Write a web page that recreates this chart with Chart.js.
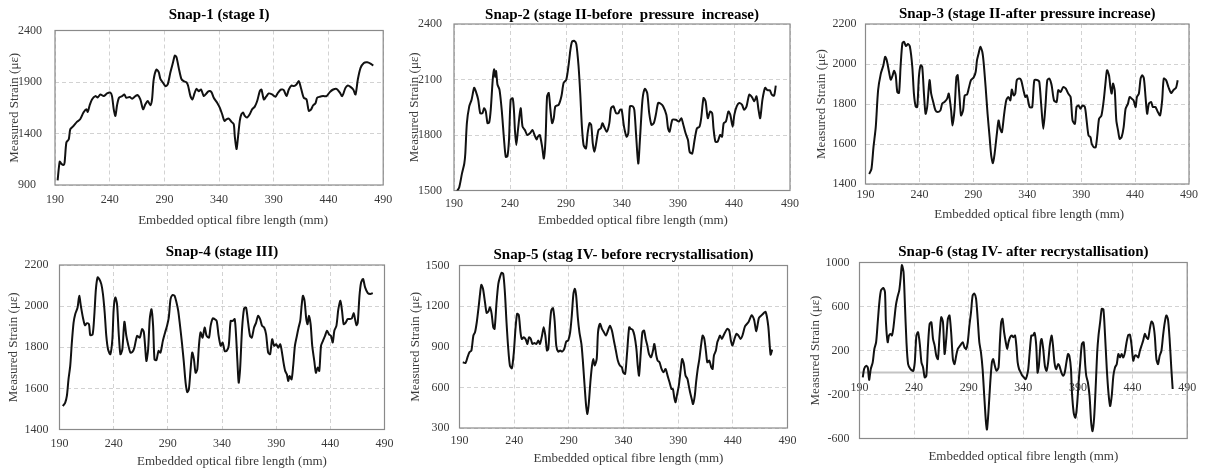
<!DOCTYPE html>
<html>
<head>
<meta charset="utf-8">
<script src="https://cdn.jsdelivr.net/npm/chart.js@4.4.1/dist/chart.umd.min.js"></script>
<style>
  html, body { margin: 0; padding: 0; background: #ffffff; }
  #page { position: relative; width: 1205px; height: 473px; overflow: hidden; background: #ffffff; }
  #page canvas { position: absolute; }
</style>
</head>
<body>
<div id="page"></div>
<script>
// ---- axis ranges: [min, max, step] ----
const lengthAxis = [190, 490, 50];
const snap1Axis = [900, 2400, 500];
const snap2Axis = [1500, 2400, 300];
const snap3Axis = [1400, 2200, 200];
const snap4Axis = [1400, 2200, 200];
const snap5Axis = [300, 1500, 300];
const snap6Axis = [-600, 1000, 400];

// ---- text ----
const panelTitles = [
  'Snap-1 (stage I)',
  'Snap-2 (stage II-before  pressure  increase)',
  'Snap-3 (stage II-after pressure increase)',
  'Snap-4 (stage III)',
  'Snap-5 (stag IV- before recrystallisation)',
  'Snap-6 (stag IV- after recrystallisation)'
];
const lengthTitle = 'Embedded optical fibre length (mm)';
const strainTitle = 'Measured Strain (με)';

// ---- Snap-1: fibre length (mm) and strain (με) ----
const snap1Length = [192.4,194.3,195.9,197.9,198.8,200.4,202.6,204,207,210,
213,216,218.7,219.9,221.7,223.8,226.9,229,231.5,234.5,
237.6,240.6,242.1,243.7,245.2,246.7,248.5,251.3,253.4,255.2,
258.3,260.4,263.5,265.6,268,270.5,272.6,274.8,277.2,278.7,
280.2,282.7,284.8,286.3,288.8,290.9,293,295.5,297.9,299.5,
301,303.1,305.5,307.6,310.1,311.6,313.8,315.6,317.5,319.3,
321.4,323.5,326,328.4,330.5,333,335.1,338.2,340.6,342.8,
344.9,346.7,348.8,351.3,353.4,354.3,355.9,357.1,358.9,360.4,
362,363.5,365.6,368,370.2,372.6,374.8,377.2,378.7,380.9,
383,385.4,388.4,391.5,393.9,396.7,399.1,401.6,403.7,406.2,
408.3,410.7,412.9,415,417.4,419.9,422,424.1,426,428.1,
429.6,432.1,435.1,438.2,441.2,444.3,447.3,450.4,452.5,455.5,
457.7,460.1,462.6,464.7,466.8,469.3,472.3,475.4,478.4,480.9];
const snap1Strain = [944,1127,1105,1095,1120,1313,1345,1442,1474,1513,
1538,1603,1635,1609,1674,1731,1763,1750,1779,1763,
1789,1796,1763,1635,1571,1674,1747,1763,1779,1747,
1754,1738,1763,1773,1731,1635,1683,1715,1674,1731,
1923,2020,1995,1931,1892,1860,1876,1995,2091,2156,
2143,2037,1931,1908,1898,1866,1763,1731,1789,1834,
1811,1827,1763,1789,1811,1802,1747,1699,1651,1587,
1522,1538,1545,1513,1490,1378,1249,1346,1522,1587,
1603,1571,1555,1587,1635,1661,1715,1811,1827,1731,
1757,1789,1779,1757,1796,1827,1821,1763,1827,1866,
1860,1876,1908,1834,1747,1731,1619,1635,1674,1693,
1747,1757,1763,1763,1802,1827,1834,1796,1763,1843,
1866,1853,1827,1779,1924,2037,2085,2091,2078,2059];

// ---- Snap-2 ----
const snap2Length = [192.7,194.7,197.1,199.2,200.1,201.5,203.6,205.7,208,209.5,
211.6,213.4,215.4,216.9,218.4,219.9,221.4,222.8,224.6,225.8,
226.7,227.6,228.8,230.6,232.6,234.7,236.2,237.7,239.1,240.6,
242.4,243.5,244.4,245.6,247.1,249.5,251.2,253.3,255.4,257.8,
260.1,261.9,263.7,264.9,266.6,268.7,270.2,271.7,273.1,274.6,
276.1,277.6,279.1,280.5,283.5,285.9,287.9,290.3,292.4,293.8,
295.3,297.4,299.2,301.2,302.7,304.2,305.7,307.8,309.3,311,
312.5,313.9,315.4,316.9,319,321.1,322.5,324,326.4,328.7,
330.2,332.3,334.7,336.8,338.2,339.7,341.8,344.1,345.6,347.1,
349.5,351,352.5,354.5,356,358.3,360.4,362.5,364.3,366.3,
368.4,370.2,372.3,374.6,376.7,379.6,381.1,382.5,385,388,
390.9,393,394.4,396.8,398.9,400.4,402.7,404.8,406.9,409.2,
410.7,412.8,414.6,416.6,418.7,420.5,421.7,423.4,425.4,427.6,
429.3,430.8,432.8,435,436.7,438.8,440.3,442.4,444.7,447.1,
449.1,451.2,453.6,456,458.1,460.1,461.9,463.4,465.4,467.8,
469.8,472,473.7,475.8,477.3];
const snap2Strain = [1496,1518,1591,1646,1700,1864,1955,1991,2055,2036,
1991,1918,1918,1945,1927,1864,1867,1936,2100,2155,
2115,2145,2073,2045,1936,1773,1682,1685,1773,1991,
1998,1936,1827,1746,1827,1945,1845,1827,1800,1809,
1827,1800,1776,1791,1800,1736,1673,1773,2009,2027,
1936,1864,1891,1955,1964,2009,2082,2100,2182,2255,
2304,2309,2291,2173,2027,1845,1746,1727,1809,1864,
1855,1755,1709,1755,1827,1836,1864,1845,1818,1864,
1945,1955,1918,1918,1936,1936,1845,1791,1809,1955,
1955,1936,1809,1646,1773,1991,2049,2027,1918,1855,
1864,1909,1973,1969,1955,1909,1836,1818,1882,1882,
1873,1891,1864,1809,1773,1709,1700,1773,1836,1845,
1891,2000,1982,1891,1927,1918,1836,1764,1764,1800,
1791,1864,1873,1927,1909,1845,1909,1955,1973,1964,
1936,1955,2018,2005,1982,2009,1936,1891,1991,2055,
2042,2042,2018,2013,2067];

// ---- Snap-3 ----
const snap3Length = [193.4,195.5,197.4,199.5,201.7,204.2,206.6,208.2,209.7,211.8,
213.4,214.9,216.5,218,219.5,221.1,222.6,224.2,225.7,227.5,
229.4,231.2,233.4,234.9,236.5,238,239.5,241.1,242.6,244.2,
245.7,247.2,249.4,250.9,252.8,254.9,257.1,259.5,261.1,263.2,
265.7,267.2,269.4,270.6,272.5,274.3,275.5,277.4,278.6,280.5,
282,284.2,285.7,287.8,290.3,292.2,293.4,294.9,296.5,298.3,
299.5,301.4,303.2,305.1,306.6,308.2,309.7,311.8,313.4,314.9,
316.5,318.6,320.5,322.5,324.3,325.7,327.4,328.9,330.3,332.5,
334.3,336.5,338.2,339.7,342.2,344.6,346.6,349.7,351.2,353.1,
354.9,356.8,358.6,360.5,362.6,364.8,367.2,368.8,370.9,373.4,
375.8,378,380.2,382,384.2,385.7,387.5,389.4,391.2,393.4,
394.9,396.8,398.6,399.8,401.7,403.5,405.1,406.6,408.8,410.9,
412.5,414,415.8,417.1,418.3,419.5,421.1,422.6,424.2,425.7,
427.5,429.4,431.2,433.4,434.9,436.8,438.6,440.5,441.7,443.5,
445.1,446.6,448.2,449.7,451.2,452.8,454.9,456.5,458.9,461.1,
463.2,465.1,466.6,468.8,470.9,473.4,475.5,478,479.5];
const snap3Strain = [1450,1475,1584,1684,1869,1952,1994,2036,2019,1961,
1922,1939,1966,1944,1860,1855,1994,2103,2111,2090,
2100,2086,1986,1852,1788,1785,1935,1994,1986,1852,
1751,1785,1919,1852,1810,1768,1760,1768,1802,1810,
1827,1852,1768,1693,1768,1935,1944,1818,1743,1768,
1843,1848,1877,1919,1932,1961,2019,2053,2086,2061,
2011,1885,1751,1634,1542,1504,1550,1651,1718,1676,
1659,1751,1818,1835,1818,1872,1843,1852,1919,1927,
1919,1869,1835,1843,1785,1785,1919,1919,1910,1785,
1676,1785,1919,1927,1894,1818,1810,1869,1860,1885,
1877,1852,1835,1718,1701,1785,1793,1776,1793,1785,
1726,1643,1634,1601,1584,1584,1651,1726,1743,1818,
1902,1969,1944,1885,1852,1902,1869,1718,1668,1626,
1634,1684,1776,1802,1835,1827,1818,1785,1835,1852,
1927,1944,1927,1835,1751,1802,1810,1785,1785,1760,
1743,1818,1927,1919,1885,1855,1869,1882,1919];

// ---- Snap-4 ----
const snap4Length = [193.1,195.2,196.8,198.3,199.9,201.4,203,204.5,206.7,208.2,
209.8,211.6,213.5,215.3,217.2,218.4,220.6,222.1,223.6,225.2,
226.7,228.6,230.1,231.7,233.2,234.8,236.9,238.8,240,241.5,
243.1,244.6,246.2,248,249.9,251.7,253.3,255.4,257.3,259.1,
261.6,264.1,266.2,267.8,269,270.2,271.8,273.3,274.9,276.4,
277.7,279.5,281.4,283.2,285.4,287.5,289.4,290.9,292.5,294.3,
296.2,298,299.6,301.1,303,304.8,306.4,307.9,309.4,311,
312.5,314.1,315.6,317.2,318.7,320.2,322.1,324,325.8,328,
329.5,331.4,333.2,335.1,336.9,338.8,340.6,342.5,344.3,346.2,
348,349.9,351.7,353,354.2,355.4,356.7,358.5,360.4,362.2,
364.1,365.9,367.5,369.6,371.5,373.3,375.2,377,378.9,380.7,
382.6,384.4,386.3,388.1,390,391.9,393.7,394.9,396.8,398.3,
399.9,401.1,402.3,404.2,405.7,407.3,409.1,410.7,412.2,413.5,
414.7,416.2,417.8,419,420.2,421.8,423.3,425.2,426.7,428.3,
429.8,431.4,433.2,435.1,436.9,438.8,440.6,442.2,443.7,445.6,
447.4,449.3,450.8,452.3,454.2,456,457.9,459.8,461.6,462.8,
464.1,465.3,466.9,468.4,470.2,472.1,474.6,477,479.2];
const snap4Strain = [1514,1530,1563,1644,1709,1823,1920,1961,1993,2050,
1998,1945,1907,1917,1912,1859,1863,1953,2083,2140,
2132,2107,2059,1969,1855,1790,1766,1839,1985,2042,
2010,1872,1766,1790,1924,1855,1815,1774,1777,1798,
1855,1847,1888,1875,1807,1733,1790,1937,1985,1904,
1741,1738,1782,1774,1831,1872,1907,1945,2034,2054,
2050,2018,1977,1912,1823,1725,1628,1582,1595,1693,
1774,1741,1676,1693,1807,1872,1847,1896,1855,1847,
1904,1940,1937,1928,1855,1807,1823,1782,1782,1807,
1928,1928,1937,1855,1733,1628,1693,1888,1989,1993,
1920,1855,1847,1896,1920,1953,1937,1904,1896,1863,
1774,1766,1839,1807,1815,1798,1815,1790,1725,1685,
1668,1636,1660,1644,1709,1807,1855,1896,1928,2002,
2050,2026,1937,1912,1953,1912,1807,1733,1676,1701,
1685,1807,1831,1855,1880,1863,1855,1823,1880,1904,
1985,2026,1977,1912,1920,1937,1937,1940,1966,1937,
1907,1920,2050,2115,2132,2091,2063,2059,2063];

// ---- Snap-5 ----
const snap5Length = [193,195.5,197.3,199.1,200.9,202.7,204.2,205.8,207.3,208.8,
210,211.5,213.3,214.8,216.4,217.9,219.4,220.9,222.1,223.9,
225.5,227,228.5,230,231.5,233,234.5,236.1,237.9,239.7,
241.2,242.7,244.2,245.8,247,248.8,250.6,252.1,253.6,255.2,
256.7,258.5,260.3,262.1,263.6,265.5,267,268.5,270,271.2,
272.4,273.9,275.5,277,278.5,280.3,282.1,283.9,285.8,287.6,
289.4,291.2,292.7,294.2,295.5,296.7,298.2,299.7,301.5,302.7,
304.2,305.8,307,308.2,309.7,311.2,312.4,313.6,315.5,316.7,
318.5,320.3,322.1,323.9,325.8,327.6,329.4,331.5,333,334.8,
336.7,338.5,339.7,341.5,343.3,345.2,346.7,348.2,350,351.8,
353,354.2,355.8,357.3,358.8,360.3,361.8,363.3,365.2,367,
368.2,370,371.2,373,374.8,376.7,378.5,380.3,382.1,383.9,
385.2,386.4,387.6,388.8,390.6,392.4,393.6,395.2,396.7,398.5,
399.7,400.9,402.4,403.6,405.2,406.4,407.9,409.4,410.9,412.4,
413.9,415.5,416.7,418.5,420.3,421.5,422.7,424.5,425.8,427,
428.2,430,431.5,433,434.8,436.7,438.2,439.7,441.5,443.3,
445.2,447,448.8,451.2,454.2,457.3,459.4,461.5,463.9,467,
470,472.4,474.5,476];
const snap5Strain = [785,780,822,859,872,983,1007,1081,1180,1291,
1357,1328,1229,1150,1160,1192,1143,1044,1032,1229,
1364,1414,1446,1438,1303,1081,896,761,741,859,
1032,1143,1135,1007,957,970,953,921,970,958,
921,928,921,946,921,983,1044,983,872,884,
1032,1167,1185,1093,909,864,872,864,884,938,
946,1007,1130,1291,1328,1278,1118,1007,921,810,
638,465,404,477,638,761,810,761,810,1007,
1069,1032,1007,983,1020,1056,1020,933,872,798,
761,749,712,700,859,1044,1032,1027,983,884,
761,687,859,1007,1020,958,909,847,822,872,
921,835,798,785,736,712,736,687,638,588,
588,527,490,539,613,736,810,773,687,662,
613,564,514,477,539,638,736,810,909,983,
958,859,785,798,748,736,835,872,933,958,
983,958,983,1007,1032,1020,946,909,958,995,
983,958,983,1052,1081,1133,1101,1015,1113,1138,
1157,1052,842,879];

// ---- Snap-6 ----
const snap6Length = [193,194.2,196.1,197.6,198.8,200.3,202.1,203.6,205.2,206.7,
208.2,209.7,211.8,213.3,214.2,215.8,217,218.5,219.7,220.9,
222.1,223.3,224.8,226.4,227.6,228.8,230.3,231.5,233,234.5,
236.7,239.1,240.6,242.1,243.6,245.2,246.7,248.2,249.7,251.2,
252.7,254.2,255.8,257.3,258.8,260.3,261.8,263.3,264.8,266.4,
267.9,269.4,270.9,272.4,273.9,275.5,277,278.5,280,282.1,
284.5,286.1,287.6,289.1,290.6,292.1,293.6,295.2,296.7,298.2,
299.7,301.2,302.7,304.2,305.8,306.7,308.2,309.7,311.2,312.4,
313.9,315.5,317.3,318.5,319.7,320.9,322.4,323.9,325.2,326.4,
327.9,329.4,330.9,332.4,333.6,334.8,336.1,337.6,339.1,340.6,
342.1,343.3,344.5,345.8,347.3,348.8,350.3,351.8,353,354.2,
355.8,356.7,358.2,359.7,361.2,362.7,364.2,365.8,367,368.5,
370,371.8,373,374.8,376.4,377.9,379.4,380.9,382.1,383.6,
384.5,386.1,387.6,389.1,390.6,392.1,393.6,395.2,396.7,397.6,
399.1,400.6,402.1,403.3,404.8,406.4,407.6,408.8,410.3,411.8,
413.3,414.8,416.4,417.9,419.4,420.9,422.4,423.9,425.5,427,
428.5,430,431.5,433,434.5,436.1,437.6,439.1,440.6,442.1,
443.6,445.2,446.7,448.2,449.7,451.2,452.7,454.2,455.8,457.3,
458.8,460.3,461.8,463.3,464.8,466.4,467.9,469.4,470.9,472.4,
473.9,475.5,476.7];
const snap6Strain = [-45,31,61,46,-67,31,92,214,275,457,
640,747,768,732,457,275,336,351,336,396,
503,610,686,747,854,976,915,640,275,76,
31,15,92,336,366,259,92,46,-45,-30,
244,442,457,305,244,153,122,336,503,457,
168,305,488,518,366,122,76,153,214,244,
275,229,214,275,427,549,701,717,671,488,
275,183,31,-213,-457,-518,-335,-91,92,122,
61,15,46,275,457,488,366,275,214,275,
320,336,320,336,244,92,31,0,-30,-45,
-61,-30,31,183,336,336,360,244,0,61,
275,305,214,61,15,92,244,336,259,92,
31,76,61,0,-30,0,92,168,153,31,
-183,-366,-411,-305,-91,92,259,275,61,-30,
-91,-213,-457,-533,-411,-91,183,336,457,579,
573,336,31,-183,-305,-213,-30,46,76,168,
137,168,137,183,275,342,342,244,107,153,
153,137,198,244,290,351,320,305,397,464,
442,336,122,76,153,198,336,451,518,482,
305,31,-150];

// ---- page geometry of each plot frame and its labels ----
// tickLeft: when set, strain labels are left-aligned starting at that page x
const panels = [
  { L: 55,    T: 30.5,  R: 384,    B: 185,   titleGap: 15,  yTitleGap: 40,   yTickPad: 11.5, xTickPad: 7.8, xTitleGap: 36,   xTitleShift: 14, tickLeft: 18 },
  { L: 454,   T: 24,    R: 790,    B: 190.5, titleGap: 8.5, yTitleGap: 39,   yTickPad: 12,   xTickPad: 6.3, xTitleGap: 30,   xTitleShift: 11 },
  { L: 865.5, T: 24,    R: 1189,   B: 184,   titleGap: 10,  yTitleGap: 44,   yTickPad: 9,    xTickPad: 4,   xTitleGap: 31,   xTitleShift: 2 },
  { L: 59.5,  T: 265,   R: 384.5,  B: 429.5, titleGap: 13,  yTitleGap: 46,   yTickPad: 11,   xTickPad: 7.3, xTitleGap: 32.5, xTitleShift: 10 },
  { L: 459.5, T: 265.5, R: 787.5,  B: 428,   titleGap: 10.5,yTitleGap: 43.7, yTickPad: 10,   xTickPad: 5.8, xTitleGap: 31,   xTitleShift: 5 },
  { L: 859.5, T: 262.5, R: 1188,   B: 438.5, titleGap: 10.5,yTitleGap: 43.7, yTickPad: 10,   xTickPad: 7.8, xTitleGap: 18.5, xTitleShift: 0 }
];

const FONT = "'Liberation Serif', 'Times New Roman', serif";
Chart.defaults.font.family = FONT;
Chart.defaults.color = '#3a3a3a';

const GRID = '#d2d2d2';
const DASH = [4, 3];
const FRAME = '#8a8a8a';
const TEXT = '#3a3a3a';

// frame around the plot area, zero line where the length axis crosses 0,
// and the length-axis caption under the frame
const framePlugin = {
  id: 'frame',
  beforeDatasetsDraw(chart, args, opts) {
    const { ctx, chartArea: a } = chart;
    ctx.save();
    if (opts.zeroLine) {
      const y0 = chart.scales.y.getPixelForValue(0);
      ctx.strokeStyle = '#c4c4c4';
      ctx.lineWidth = 2;
      ctx.beginPath();
      ctx.moveTo(a.left, y0);
      ctx.lineTo(a.right, y0);
      ctx.stroke();
    }
    ctx.strokeStyle = FRAME;
    ctx.lineWidth = 1.2;
    ctx.strokeRect(a.left, a.top, a.right - a.left, a.bottom - a.top);
    ctx.restore();
  },
  afterDraw(chart, args, opts) {
    if (!opts.caption) return;
    const { ctx, chartArea: a } = chart;
    ctx.save();
    ctx.font = '13px ' + FONT;
    ctx.fillStyle = TEXT;
    ctx.textAlign = 'center';
    ctx.textBaseline = 'middle';
    ctx.fillText(opts.caption, (a.left + a.right) / 2 + opts.shift, a.bottom + opts.gap);
    ctx.restore();
  }
};

const page = document.getElementById('page');
const plainNumber = (v) => String(v);

function drawPanel(p, title, lengths, strains, yAxis, zeroCross) {
  const titleSize = 15;
  const tlh = titleSize * 1.2;
  const lh = 13 * 1.2;
  const cl = Math.floor(p.L) - 56;
  const scaleLeft = p.tickLeft !== undefined ? p.tickLeft : cl;
  const padLeft = scaleLeft - cl;
  const yw = p.L - scaleLeft;
  const tPb = Math.max(0, p.titleGap - tlh / 2);
  const ct = Math.floor(p.T - tlh - tPb - 2);
  const tPt = (p.T - ct) - tlh - tPb;
  const cr = Math.ceil(p.R + 16);
  const cb = Math.ceil(p.B + 46);
  const xh = cb - p.B;

  const canvas = document.createElement('canvas');
  canvas.width = cr - cl;
  canvas.height = cb - ct;
  canvas.style.left = cl + 'px';
  canvas.style.top = ct + 'px';
  page.appendChild(canvas);

  const n = Math.min(lengths.length, strains.length);
  const points = [];
  for (let i = 0; i < n; i++) points.push({ x: lengths[i], y: strains[i] });

  const tickFont = { size: 12, lineHeight: 1.2 };

  const xScale = {
    type: 'linear',
    min: lengthAxis[0], max: lengthAxis[1],
    ticks: { stepSize: lengthAxis[2], padding: p.xTickPad, font: tickFont, color: TEXT,
             maxRotation: 0, autoSkip: false, callback: plainNumber },
    grid: { color: GRID, lineWidth: 1, drawTicks: false },
    border: { display: false, dash: DASH },
    title: { display: false }
  };
  let bottomPad = 0;
  if (zeroCross) {
    xScale.position = { y: 0 };
    bottomPad = xh;
  } else {
    xScale.position = 'bottom';
    xScale.afterFit = (s) => { s.height = xh; };
  }

  const yScale = {
    type: 'linear', position: 'left',
    min: yAxis[0], max: yAxis[1],
    ticks: { stepSize: yAxis[2], padding: p.yTickPad, font: tickFont, color: TEXT, callback: plainNumber,
             crossAlign: p.tickLeft !== undefined ? 'far' : 'near' },
    grid: { color: GRID, lineWidth: 1, drawTicks: false },
    border: { display: false, dash: DASH },
    title: { display: true, text: strainTitle, font: { size: 13, lineHeight: 1.2 }, color: TEXT,
             padding: { top: (p.L - p.yTitleGap) - scaleLeft - lh / 2, bottom: 0 } },
    afterFit(s) { s.width = yw; }
  };

  return new Chart(canvas, {
    type: 'line',
    data: {
      datasets: [{
        data: points,
        borderColor: '#111111',
        borderWidth: 2,
        pointRadius: 0,
        tension: 0.25,
        fill: false
      }]
    },
    options: {
      responsive: false,
      animation: false,
      devicePixelRatio: 1,
      events: [],
      layout: { padding: { left: padLeft, top: 0, right: cr - p.R, bottom: bottomPad } },
      plugins: {
        legend: { display: false },
        tooltip: { enabled: false },
        title: {
          display: true, text: title, fullSize: false,
          color: '#000000',
          font: { size: titleSize, weight: 'bold', lineHeight: 1.2 },
          padding: { top: tPt, bottom: tPb }
        },
        frame: { zeroLine: !!zeroCross, caption: lengthTitle, gap: p.xTitleGap, shift: p.xTitleShift }
      },
      scales: { x: xScale, y: yScale }
    },
    plugins: [framePlugin]
  });
}

drawPanel(panels[0], panelTitles[0], snap1Length, snap1Strain, snap1Axis, false);
drawPanel(panels[1], panelTitles[1], snap2Length, snap2Strain, snap2Axis, false);
drawPanel(panels[2], panelTitles[2], snap3Length, snap3Strain, snap3Axis, false);
drawPanel(panels[3], panelTitles[3], snap4Length, snap4Strain, snap4Axis, false);
drawPanel(panels[4], panelTitles[4], snap5Length, snap5Strain, snap5Axis, false);
drawPanel(panels[5], panelTitles[5], snap6Length, snap6Strain, snap6Axis, true);
</script>
</body>
</html>
